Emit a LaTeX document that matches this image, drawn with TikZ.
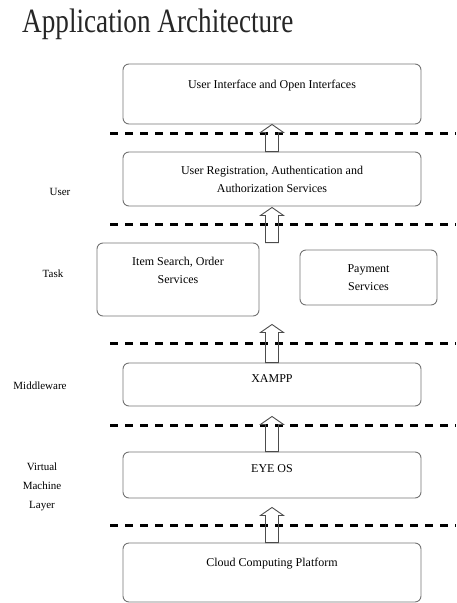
\documentclass[tikz,border=0pt]{standalone}
\usepackage{fontspec}
\setmainfont{Liberation Serif}
\usetikzlibrary{positioning}
\usetikzlibrary{calc}

% hollow block arrow pointing up: base, tip, gap under tip
\newcommand{\hollowup}[3]{%
  \draw[hollow] let \p1=(#1), \p2=(#2) in
    (\x1-6.5pt,\y1) -- (\x1-6.5pt,\y2-#3-8pt) -- (\x1-11.5pt,\y2-#3-8pt)
    -- (\x1,\y2-#3) -- (\x1+11.5pt,\y2-#3-8pt) -- (\x1+6.5pt,\y2-#3-8pt)
    -- (\x1+6.5pt,\y1) -- cycle;}

\begin{document}
\begin{tikzpicture}[x=1pt,y=1pt]

  \tikzstyle{layer}=[rectangle,draw=black!55,line width=0.9pt,rounded corners=6pt,minimum width=298pt];
  \tikzstyle{boxtext}=[inner sep=0pt,align=center,font=\fontsize{12}{18}\selectfont];
  \tikzstyle{side}=[inner sep=0pt,align=center,font=\fontsize{11}{19}\selectfont];
  \tikzstyle{sep}=[line width=3pt,dash pattern=on 8pt off 7pt];
  \tikzstyle{hollow}=[draw=black!70,line width=0.9pt];

  \useasboundingbox (0,0) rectangle (456,-603);

  \node[anchor=base west,inner sep=0pt,text=black!85,font=\fontsize{34}{40}\selectfont]
    (title) at (22,-32) {\scalebox{0.8}[1]{Application Architecture}};

  \node[layer,minimum height=60pt] (ui) at (272,-94) {};
  \node[boxtext] (uitext) [below=16pt of ui.north] {User Interface and Open Interfaces};
  \node[layer,boxtext,minimum height=54pt] (reg) at (272,-179) {User Registration, Authentication and\\Authorization Services};
  \node[layer,minimum width=162pt,minimum height=73pt] (item) at (178,-279.5) {};
  \node[boxtext] (itemtext) [below=14pt of item.north] {Item Search, Order\\Services};
  \node[layer,boxtext,minimum width=137pt,minimum height=55pt] (pay) at (368.5,-277.5) {Payment\\Services};
  \node[layer,minimum height=43pt] (xampp) at (272,-384.5) {};
  \node[boxtext] (xampptext) [below=12pt of xampp.north] {XAMPP};
  \node[layer,minimum height=46pt] (eye) at (272,-475) {};
  \node[boxtext] (eyetext) [below=13pt of eye.north] {EYE OS};
  \node[layer,minimum height=59pt] (cloud) at (272,-572.5) {};
  \node[boxtext] (cloudtext) [below=15pt of cloud.north] {Cloud Computing Platform};

  \node[side] (user) at (60,-192) {User};
  \node[side] (task) at (53,-274) {Task};
  \node[side] (mid) at (40,-386) {Middleware};
  \node[side] (vm) at (42,-487) {Virtual\\Machine\\Layer};

  \foreach \y in {133,224,343,425,525}
    \draw[sep] (110,-\y) -- (456,-\y);

  \hollowup{reg.north}{ui.south}{0pt}
  \hollowup{reg.south |- item.north}{reg.south}{1pt}
  \hollowup{xampp.north}{item.south}{8pt}
  \hollowup{eye.north}{xampp.south}{10pt}
  \hollowup{cloud.north}{eye.south}{9pt}

\end{tikzpicture}
\end{document}
